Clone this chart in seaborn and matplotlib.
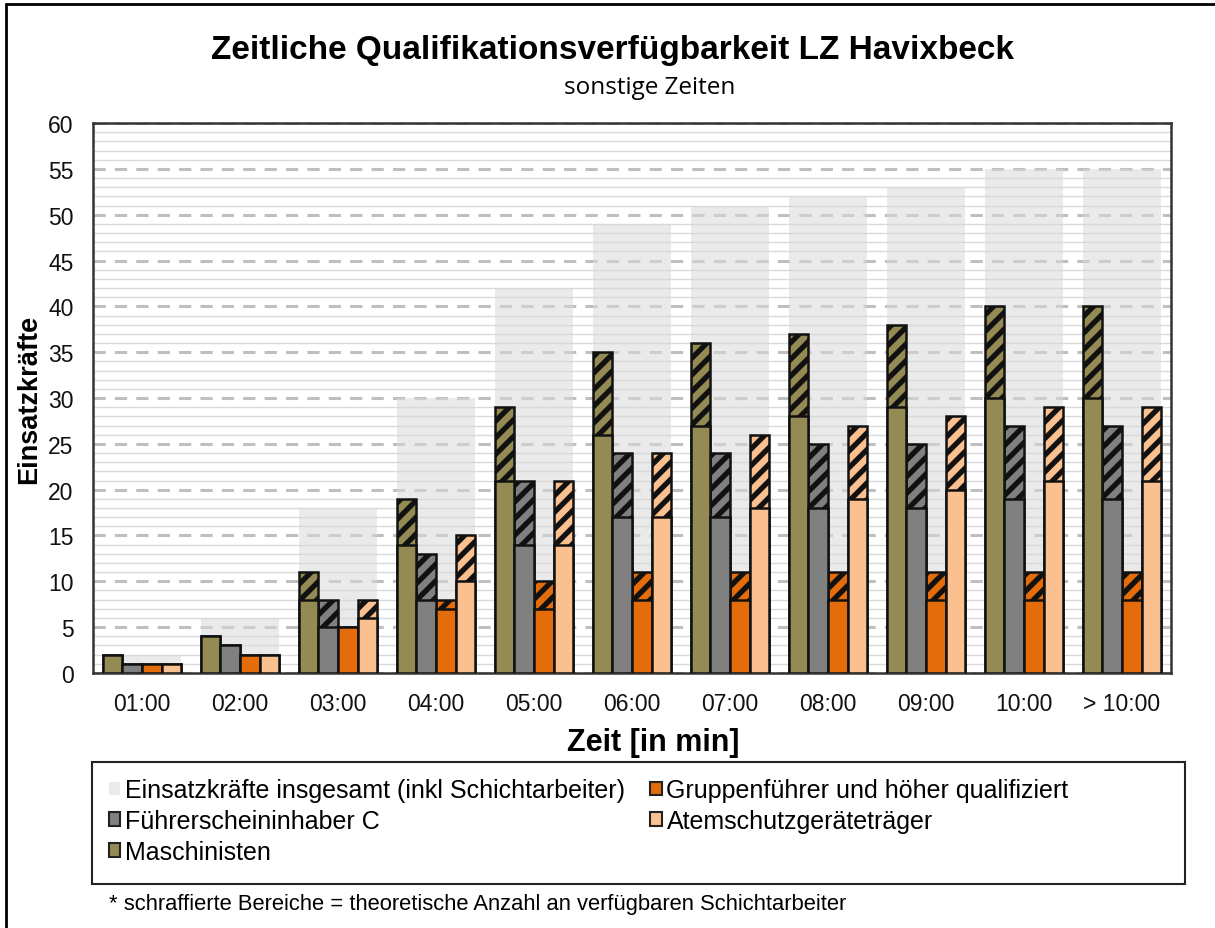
import matplotlib
matplotlib.use("Agg")
import matplotlib.pyplot as plt
from matplotlib.patches import Patch, Rectangle
from matplotlib.lines import Line2D
from matplotlib.ticker import MultipleLocator, FixedLocator
import pandas as pd
import seaborn as sns

# data
zeiten = ["01:00", "02:00", "03:00", "04:00", "05:00", "06:00",
          "07:00", "08:00", "09:00", "10:00", "> 10:00"]
insgesamt = [2, 6, 18, 30, 42, 49, 51, 52, 53, 55, 55]

quali = ["Maschinisten", "Führerscheininhaber C",
         "Gruppenführer und höher qualifiziert", "Atemschutzgeräteträger"]

# without shift workers (solid part)
masch_ohne = [2, 4, 8, 14, 21, 26, 27, 28, 29, 30, 30]
fs_ohne = [1, 3, 5, 8, 14, 17, 17, 18, 18, 19, 19]
gf_ohne = [1, 2, 5, 7, 7, 8, 8, 8, 8, 8, 8]
as_ohne = [1, 2, 6, 10, 14, 17, 18, 19, 20, 21, 21]

# incl. shift workers (hatched top)
masch_mit = [2, 4, 11, 19, 29, 35, 36, 37, 38, 40, 40]
fs_mit = [1, 3, 8, 13, 21, 24, 24, 25, 25, 27, 27]
gf_mit = [1, 2, 5, 8, 10, 11, 11, 11, 11, 11, 11]
as_mit = [1, 2, 8, 15, 21, 24, 26, 27, 28, 29, 29]

farben = ["#948A54", "#808080", "#E46C0A", "#FAC090"]

#%%
rows = []
for q, ohne, mit in zip(quali, [masch_ohne, fs_ohne, gf_ohne, as_ohne],
                        [masch_mit, fs_mit, gf_mit, as_mit]):
    for z, o, m in zip(zeiten, ohne, mit):
        rows.append({"Zeit": z, "Qualifikation": q, "ohne": o, "mit": m})
df = pd.DataFrame(rows)
df_total = pd.DataFrame({"Zeit": zeiten, "insgesamt": insgesamt})

sns.set_style("white")
plt.rcParams["font.family"] = ["Liberation Sans", "DejaVu Sans"]
plt.rcParams["text.color"] = "black"
plt.rcParams["axes.labelcolor"] = "black"
plt.rcParams["hatch.linewidth"] = 3.8
plt.rcParams["hatch.color"] = "black"

fig = plt.figure(figsize=(12.15, 9.29), dpi=100)
ax = fig.add_axes([0.0765, 0.2745, 0.8873, 0.592])

# grey background bars = all firefighters
sns.barplot(data=df_total, x="Zeit", y="insgesamt", order=zeiten,
            color="#D9D9D9", saturation=1, width=0.8, linewidth=0,
            alpha=0.55, errorbar=None, ax=ax, zorder=1)

# hatched: incl. shift workers
sns.barplot(data=df, x="Zeit", y="mit", hue="Qualifikation", order=zeiten,
            hue_order=quali, palette=farben, saturation=1, width=0.8,
            edgecolor="#111111", linewidth=1.8, hatch="//", errorbar=None,
            legend=False, ax=ax, zorder=3)

# solid: without shift workers
sns.barplot(data=df, x="Zeit", y="ohne", hue="Qualifikation", order=zeiten,
            hue_order=quali, palette=farben, saturation=1, width=0.8,
            edgecolor="#111111", linewidth=1.8, errorbar=None,
            legend=False, ax=ax, zorder=4)

ax.set_xlim(-0.5, len(zeiten) - 0.5)
ax.set_ylim(0, 60)
ax.yaxis.set_major_locator(MultipleLocator(5))
ax.yaxis.set_minor_locator(MultipleLocator(1))
ax.grid(which="major", axis="y", color="#BFBFBF", linestyle=(0, (4, 3)),
        linewidth=2.2, zorder=0)
ax.grid(which="minor", axis="y", color="#D9D9D9", linewidth=1, zorder=0)
ax.set_axisbelow(True)

ax.xaxis.set_minor_locator(FixedLocator([i - 0.5 for i in range(len(zeiten) + 1)]))
ax.tick_params(axis="x", which="major", length=0, pad=14, labelsize=16.5, colors="#111111")
ax.tick_params(axis="x", which="minor", length=7, width=1.5, color="#333333", direction="out")
ax.tick_params(axis="y", which="both", length=0, pad=14, labelsize=16.5, colors="#111111")

for s in ax.spines.values():
    s.set_color("#333333")
    s.set_linewidth(1.8)

ax.set_xlabel("Zeit [in min]", fontsize=22, fontweight="bold", labelpad=8)
ax.xaxis.label.set_x(0.52)
ax.set_ylabel("Einsatzkräfte", fontsize=19.5, fontweight="bold", labelpad=4)

fig.text(0.504, 0.946, "Zeitliche Qualifikationsverfügbarkeit LZ Havixbeck",
         ha="center", va="center", fontsize=24, fontweight="bold")
fig.text(0.535, 0.905, "sonstige Zeiten", ha="center", va="center",
         fontsize=17.5, family=["Open Sans", "DejaVu Sans"])

handles = [
    Patch(facecolor="#EBEBEB", edgecolor="none", label="Einsatzkräfte insgesamt (inkl Schichtarbeiter)"),
    Patch(facecolor=farben[1], edgecolor="#222222", linewidth=1.5, label=quali[1]),
    Patch(facecolor=farben[0], edgecolor="#222222", linewidth=1.5, label=quali[0]),
    Patch(facecolor=farben[2], edgecolor="#222222", linewidth=1.5, label=quali[2]),
    Patch(facecolor=farben[3], edgecolor="#222222", linewidth=1.5, label=quali[3]),
]
leg = fig.legend(handles=handles, ncol=2, loc="center left",
                 bbox_to_anchor=(109 / 1215, 1 - 822 / 929),
                 frameon=False, fontsize=18, handlelength=0.45, handleheight=0.45,
                 handletextpad=0.2, columnspacing=1.0, labelspacing=0.27,
                 borderpad=0, borderaxespad=0)

# legend box
fig.add_artist(Rectangle((92 / 1215, 1 - 885 / 929), (1185 - 92) / 1215, 122 / 929,
                         transform=fig.transFigure, facecolor="none",
                         edgecolor="#222222", linewidth=1.5))

fig.text(0.09, 0.026, "* schraffierte Bereiche = theoretische Anzahl an verfügbaren Schichtarbeiter",
         ha="left", va="center", fontsize=15.8)

# chart border (left and top edge)
fig.add_artist(Line2D([0.005, 0.005], [0, 0.995], transform=fig.transFigure,
                      color="black", linewidth=2))
fig.add_artist(Line2D([0.005, 1], [0.995, 0.995], transform=fig.transFigure,
                      color="black", linewidth=2))

fig.savefig("out.png", dpi=100)
